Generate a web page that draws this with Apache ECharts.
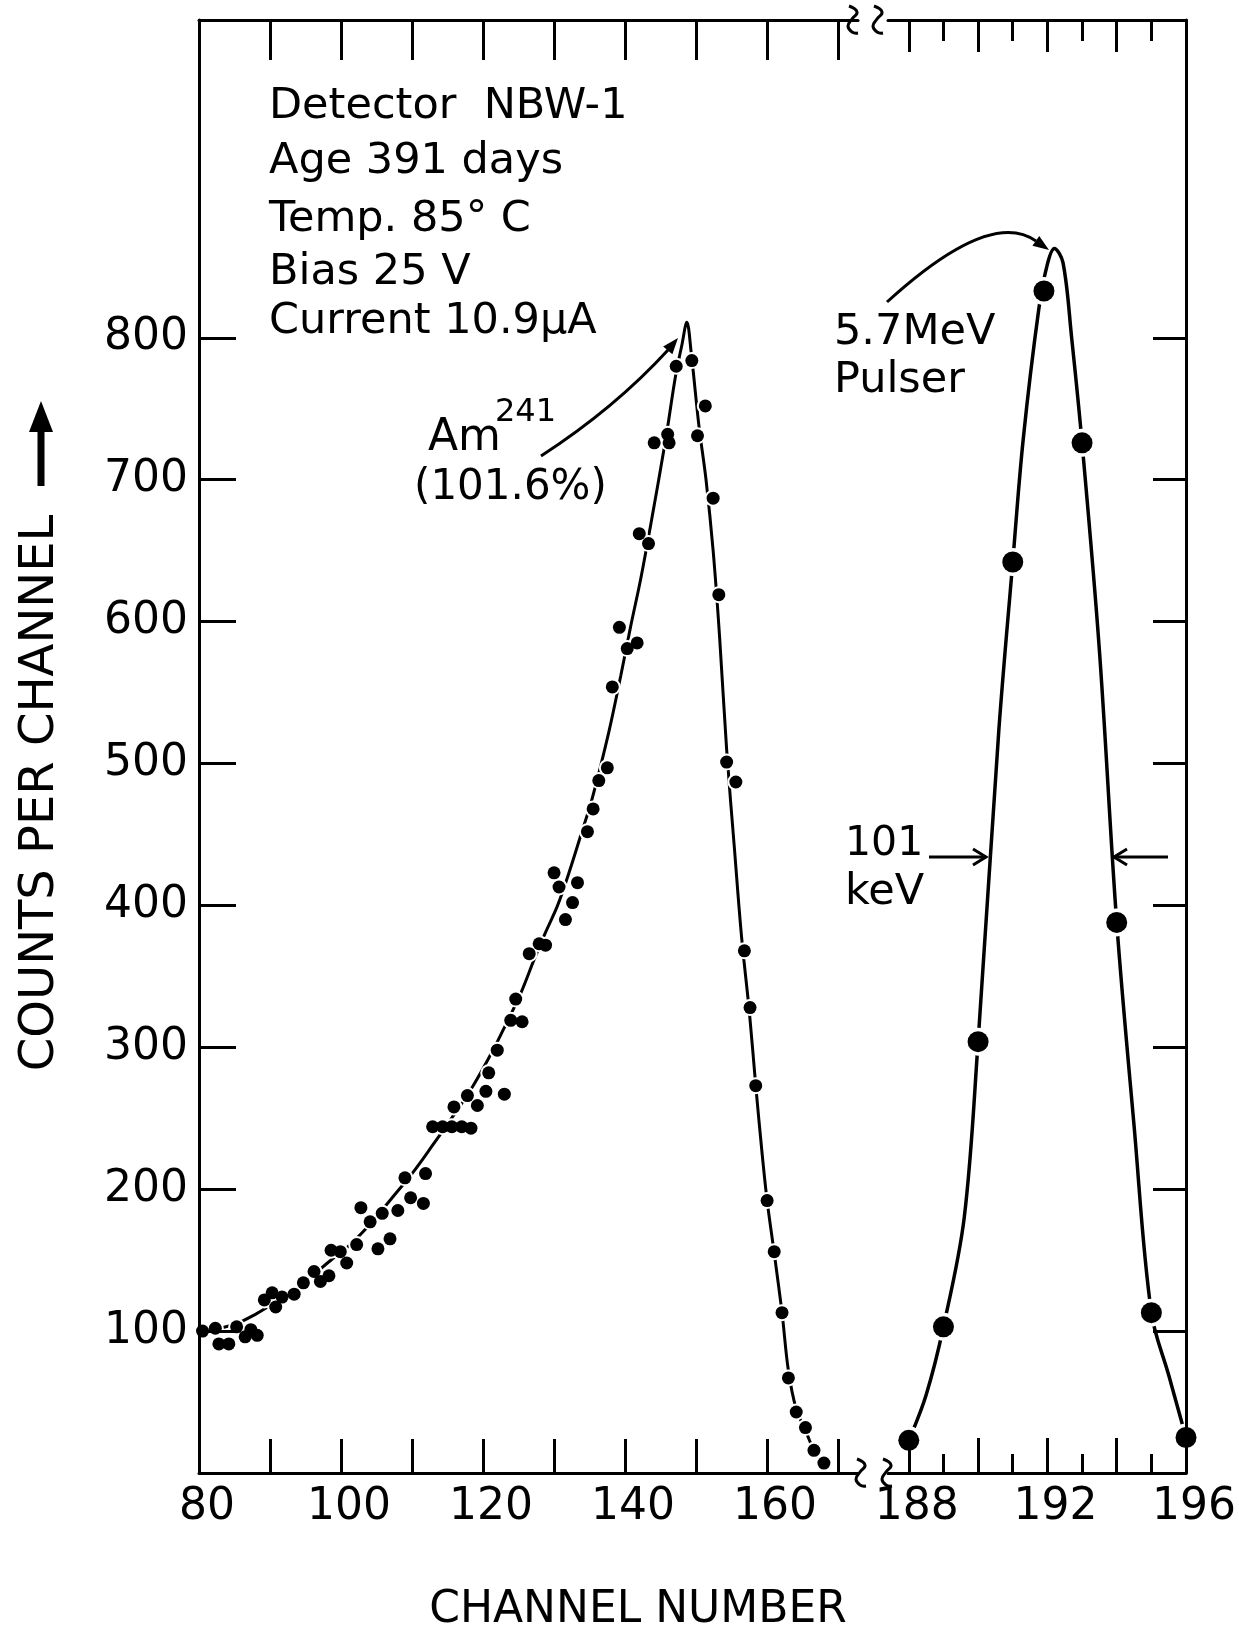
<!DOCTYPE html>
<html>
<head>
<meta charset="utf-8">
<script src="https://cdn.jsdelivr.net/npm/echarts@6/dist/echarts.min.js"></script>
<style>
  html, body { margin: 0; padding: 0; background: #fff; }
  #chart { width: 1239px; height: 1635px; }
</style>
</head>
<body>
<div id="chart"></div>
<script>
// Am-241 alpha spectrum: measured counts per channel
const amChannels = [80.5,82.3,82.8,84.2,85.3,86.5,87.3,88.2,89.2,90.3,90.8,91.7,93.4,94.7,96.2,97.1,98.3,98.6,
  99.9,100.8,102.2,102.8,104.1,105.2,105.8,106.9,108.0,109.0,109.8,111.6,111.9,112.9,114.3,115.6,115.9,117.0,
  117.8,118.3,119.2,120.4,120.8,122.0,123.0,123.9,124.6,125.5,126.5,127.9,128.8,130.0,130.7,131.6,132.6,133.3,
  134.7,135.5,136.3,137.5,138.2,139.2,140.3,141.7,142.0,143.3,144.1,146.0,146.2,147.2,149.4,150.2,151.3,152.4,
  153.2,154.3,155.6,156.8,157.6,158.4,160.0,161.0,162.1,163.0,164.1,165.4,166.6,168.0];
const amCounts = [100,102,91,91,103,96,101,97,122,127,117,124,126,134,142,135,139,157,
  156,148,161,187,177,158,183,165,185,208,194,190,211,244,244,244,258,244,
  266,243,259,269,282,298,267,319,334,318,366,373,372,423,413,390,402,416,
  452,468,488,497,554,596,581,585,662,655,726,732,726,780,784,731,752,687,
  619,501,487,368,328,273,192,156,113,67,43,32,16,7];

// Hand-drawn curve through the Am-241 spectrum
const amCurveChannels = [80,83,85.6,88,90,93,95.5,98.8,101.3,104.4,107.2,110,112.9,115.7,118.5,121.3,123.2,125.3,
  127.2,128.8,130.5,132.1,133.8,135.4,137.7,139.4,140.8,142.2,143.6,145.7,147.1,148.0,148.7,149.3,150.4,151.4,
  152.4,153.3,154.3,155.4,156.4,157.5,158.4,159.3,160.0,161.0,162.1,163.0,164.1,165.4,166.6,168.0];
const amCurveCounts = [100,102,106,112,118,127,137,151,161,177,194,211,231,251,272,297,316,338,
  362,381,400,423,450,476,522,562,597,630,668,728,773,795,811,790,738,700,
  650,590,510,440,378,325,273,225,192,155,113,72,45,30,16,5];

// 5.7 MeV pulser peak
const pulserChannels = [188,189,190,191,191.9,193,194,195,196];
const pulserCounts = [23,103,304,642,833,726,388,113,25];
const pulserCurveChannels = [188,188.5,189,189.6,190,190.6,191,191.3,191.75,192,192.2,192.45,192.7,193,193.5,194,194.5,195,195.5,196];
const pulserCurveCounts = [23,55,103,180,304,524,642,728,820,852,863,853,800,726,580,388,245,113,69,25];

// Axis ticks and labels
const lowTicks = [90,100,110,120,130,140,150,160,170];
const lowLabels = [80,100,120,140,160];
const highMajorTicks = [188,190,192,194];
const highMinorTicks = [189,191,193,195];
const highLabels = [188,192,196];
const countTicks = [100,200,300,400,500,600,700,800];

const INK = '#000';
const FONT = '"DejaVu Sans", sans-serif';
const pairs = (xs, ys) => xs.map((x, i) => [x, ys[i]]);

function xAxis(grid, pos, min, max, ticks, len, labels, showLine, pad) {
  return {
    type: 'value', gridIndex: grid, position: pos, min: min, max: max, z: 4,
    splitLine: { show: false },
    axisLine: { show: showLine, onZero: false, lineStyle: { color: INK, width: 3 } },
    axisTick: { show: true, inside: true, length: len, customValues: ticks, lineStyle: { color: INK, width: 3 } },
    axisLabel: labels ? {
      show: true, customValues: labels, color: INK, fontFamily: FONT, fontSize: 44,
      margin: 13, padding: [0, 0, 0, pad]
    } : { show: false }
  };
}

function yAxis(grid, pos, len, labels) {
  return {
    type: 'value', gridIndex: grid, position: pos, min: 0, max: 1024, z: 4,
    splitLine: { show: false },
    axisLine: { show: true, onZero: false, lineStyle: { color: INK, width: 3 } },
    axisTick: { show: true, inside: true, length: len, customValues: countTicks, lineStyle: { color: INK, width: 3 } },
    axisLabel: labels ? {
      show: true, customValues: countTicks, color: INK, fontFamily: FONT, fontSize: 44, margin: 11
    } : { show: false }
  };
}

function text(str, x, y, size, extra) {
  return Object.assign({
    type: 'text', x: x, y: y, silent: true,
    style: {
      text: str, fill: INK, font: 'normal ' + size + 'px ' + FONT,
      textAlign: 'left', textVerticalAlign: 'middle', align: 'left', verticalAlign: 'middle'
    }
  }, extra || {});
}

function arrowHead(tip, dir, len, half) {
  const n = Math.hypot(dir[0], dir[1]);
  const ux = dir[0] / n, uy = dir[1] / n;
  const bx = tip[0] - ux * len, by = tip[1] - uy * len;
  return {
    type: 'polygon', silent: true,
    shape: { points: [tip, [bx - uy * half, by + ux * half], [bx + uy * half, by - ux * half]] },
    style: { fill: INK }
  };
}

function openHead(tip, sign) {
  return {
    type: 'polyline', silent: true,
    shape: { points: [[tip[0] - sign * 13, tip[1] - 8], tip, [tip[0] - sign * 13, tip[1] + 8]] },
    style: { stroke: INK, lineWidth: 3, fill: null }
  };
}

// axis-break mark drawn where an axis line is cut
function breakMark(x, y) {
  return {
    type: 'polyline', silent: true,
    shape: { points: [[x - 3, y - 14], [x + 5, y - 8], [x, y - 1], [x - 4, y + 6], [x, y + 12], [x + 6, y + 13]], smooth: 0.5 },
    style: { stroke: INK, lineWidth: 3, fill: null }
  };
}

const chart = echarts.init(document.getElementById('chart'), null, { renderer: 'canvas' });

const option = {
  animation: false,
  backgroundColor: '#fff',
  textStyle: { fontFamily: FONT, color: INK },
  grid: [
    { left: 199, right: 381, top: 20, bottom: 162 },
    { left: 888, right: 49, top: 20, bottom: 162 }
  ],
  xAxis: [
    xAxis(0, 'bottom', 80, 172.8, lowTicks, 34, lowLabels, true, 16),
    xAxis(0, 'top', 80, 172.8, lowTicks, 40, null, true, 0),
    xAxis(1, 'bottom', 187.4, 196, highMajorTicks, 35, highLabels, true, 16),
    xAxis(1, 'bottom', 187.4, 196, highMinorTicks, 19, null, false, 0),
    xAxis(1, 'top', 187.4, 196, highMajorTicks, 32, null, true, 0),
    xAxis(1, 'top', 187.4, 196, highMinorTicks, 21, null, false, 0)
  ],
  yAxis: [
    yAxis(0, 'left', 37, true),
    yAxis(1, 'right', 33, false)
  ],
  series: [
    {
      name: 'Am-241 curve', type: 'line', xAxisIndex: 0, yAxisIndex: 0, z: 2,
      data: pairs(amCurveChannels, amCurveCounts), smooth: 0.35, symbol: 'none',
      lineStyle: { color: INK, width: 3 }, silent: true
    },
    {
      name: 'Am-241 gap', type: 'scatter', xAxisIndex: 0, yAxisIndex: 0, z: 3,
      data: pairs(amChannels, amCounts), symbolSize: 17,
      itemStyle: { color: '#fff', opacity: 1 }, silent: true
    },
    {
      name: 'Am-241', type: 'scatter', xAxisIndex: 0, yAxisIndex: 0, z: 5,
      data: pairs(amChannels, amCounts), symbolSize: 13,
      itemStyle: { color: INK, opacity: 1 }, silent: true
    },
    {
      name: 'Pulser curve', type: 'line', xAxisIndex: 2, yAxisIndex: 1, z: 2,
      data: pairs(pulserCurveChannels, pulserCurveCounts), smooth: 0.35, symbol: 'none',
      lineStyle: { color: INK, width: 3.5 }, silent: true
    },
    {
      name: 'Pulser gap', type: 'scatter', xAxisIndex: 2, yAxisIndex: 1, z: 3,
      data: pairs(pulserChannels, pulserCounts), symbolSize: 28,
      itemStyle: { color: '#fff', opacity: 1 }, silent: true
    },
    {
      name: 'Pulser', type: 'scatter', xAxisIndex: 2, yAxisIndex: 1, z: 5,
      data: pairs(pulserChannels, pulserCounts), symbolSize: 21,
      itemStyle: { color: INK, opacity: 1 }, silent: true
    }
  ],
  graphic: {
    elements: [
      // run conditions
      text('Detector  NBW-1', 269, 107, 43),
      text('Age 391 days', 269, 162, 43),
      text('Temp. 85° C', 269, 220, 43),
      text('Bias 25 V', 269, 273, 43),
      text('Current 10.9μA', 269, 322, 43),

      // Am-241 label and arrow to its peak
      text('Am', 428, 439, 44),
      text('241', 495, 413, 32),
      text('(101.6%)', 414, 488, 42),
      {
        type: 'bezierCurve', silent: true,
        shape: { x1: 541, y1: 456, cpx1: 615, cpy1: 408, x2: 668, y2: 350 },
        style: { stroke: INK, lineWidth: 3, fill: null }
      },
      arrowHead([678, 338], [10, -12], 16, 6),

      // pulser label and arrow to its peak
      text('5.7MeV', 834, 333, 43),
      text('Pulser', 834, 381, 43),
      {
        type: 'bezierCurve', silent: true,
        shape: { x1: 887, y1: 302, cpx1: 990, cpy1: 208, x2: 1036, y2: 241 },
        style: { stroke: INK, lineWidth: 3, fill: null }
      },
      arrowHead([1049, 250], [13, 9], 16, 6),

      // full width at half maximum of the pulser
      text('101', 845, 844, 41),
      text('keV', 845, 893, 43),
      { type: 'line', silent: true, shape: { x1: 929, y1: 857, x2: 985, y2: 857 }, style: { stroke: INK, lineWidth: 3 } },
      openHead([986, 857], 1),
      { type: 'line', silent: true, shape: { x1: 1168, y1: 857, x2: 1115, y2: 857 }, style: { stroke: INK, lineWidth: 3 } },
      openHead([1114, 857], -1),

      // axis break marks
      breakMark(860, 1473),
      breakMark(886, 1473),
      breakMark(852, 20),
      breakMark(877, 20),

      // axis titles
      text('CHANNEL NUMBER', 638, 1611, 44, {
        style: {
          text: 'CHANNEL NUMBER', fill: INK, font: 'normal 44px ' + FONT,
          textAlign: 'center', textVerticalAlign: 'middle', align: 'center', verticalAlign: 'middle'
        }
      }),
      text('COUNTS PER CHANNEL', 41, 793, 48, {
        rotation: Math.PI / 2,
        style: {
          text: 'COUNTS PER CHANNEL', fill: INK, font: 'normal 48px ' + FONT,
          textAlign: 'center', textVerticalAlign: 'middle', align: 'center', verticalAlign: 'middle'
        }
      }),
      { type: 'rect', silent: true, shape: { x: 37.5, y: 428, width: 7, height: 58 }, style: { fill: INK } },
      { type: 'polygon', silent: true, shape: { points: [[41, 401], [29, 432], [53, 432]] }, style: { fill: INK } }
    ]
  }
};

chart.setOption(option);
</script>
</body>
</html>
